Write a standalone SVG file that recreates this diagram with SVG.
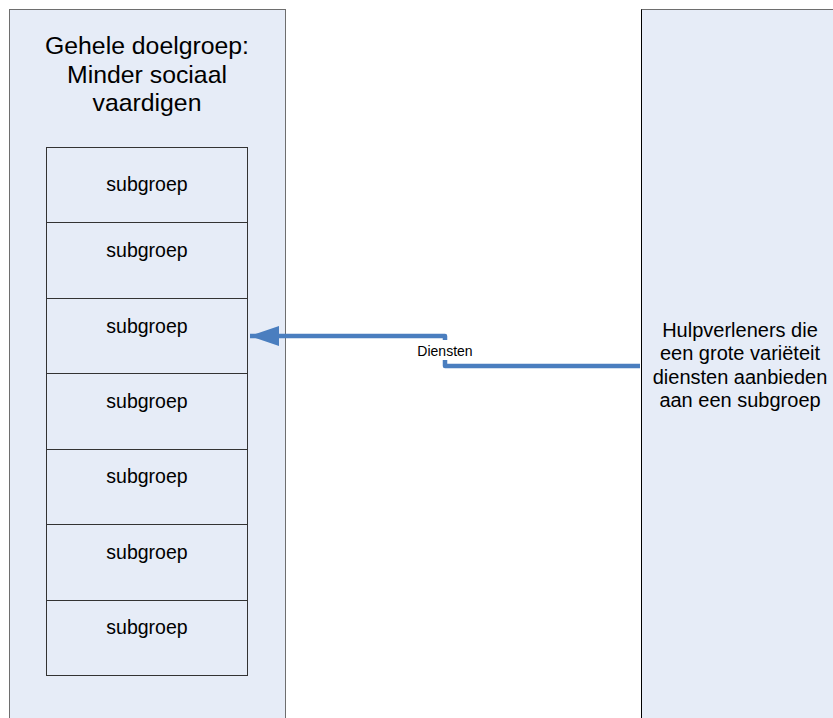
<svg xmlns="http://www.w3.org/2000/svg" width="833" height="718" viewBox="0 0 833 718">
  <style>
    .panel { fill: #E6ECF7; stroke: #6E6E6E; stroke-width: 1; }
    .sub { fill: #E6ECF7; stroke: #333333; stroke-width: 1; }
    text { font-family: "Liberation Sans", Arial, sans-serif; fill: #000; text-anchor: middle; }
    .title { font-size: 24.8px; }
    .side { font-size: 20px; }
    .lbl { font-size: 19.5px; }
    .conn { fill: none; stroke: #4A7EBF; stroke-width: 4.5; stroke-linejoin: round; }
  </style>
  <defs>
    <marker id="arrow" markerUnits="userSpaceOnUse" markerWidth="32" markerHeight="22" refX="29" refY="11" orient="auto">
      <path d="M0,1 L29,11 L0,21 Z" fill="#4A7EBF"/>
    </marker>
  </defs>
  <rect width="833" height="718" fill="#FFFFFF"/>

  <g id="doelgroep">
    <rect class="panel" x="9.5" y="9.5" width="276" height="720"/>
    <text class="title" x="147" y="54">Gehele doelgroep:</text>
    <text class="title" x="147" y="83">Minder sociaal</text>
    <text class="title" x="147" y="111">vaardigen</text>
  </g>

  <g id="subgroep1"><rect class="sub" x="46.5" y="147.5" width="201" height="75"/><text class="lbl" x="147" y="191">subgroep</text></g>
  <g id="subgroep2"><rect class="sub" x="46.5" y="222.5" width="201" height="76"/><text class="lbl" x="147" y="257">subgroep</text></g>
  <g id="subgroep3"><rect class="sub" x="46.5" y="298.5" width="201" height="75"/><text class="lbl" x="147" y="333">subgroep</text></g>
  <g id="subgroep4"><rect class="sub" x="46.5" y="373.5" width="201" height="76"/><text class="lbl" x="147" y="408">subgroep</text></g>
  <g id="subgroep5"><rect class="sub" x="46.5" y="449.5" width="201" height="75"/><text class="lbl" x="147" y="483">subgroep</text></g>
  <g id="subgroep6"><rect class="sub" x="46.5" y="524.5" width="201" height="76"/><text class="lbl" x="147" y="559">subgroep</text></g>
  <g id="subgroep7"><rect class="sub" x="46.5" y="600.5" width="201" height="75"/><text class="lbl" x="147" y="634">subgroep</text></g>

  <g id="hulpverleners">
    <rect class="panel" x="641.5" y="9.5" width="200" height="720"/>
    <line x1="641.5" y1="9.5" x2="641.5" y2="718" stroke="#000" stroke-width="1"/>
    <text class="side" x="740" y="337">Hulpverleners die</text>
    <text class="side" x="740" y="360">een grote variëteit</text>
    <text class="side" x="740" y="384">diensten aanbieden</text>
    <text class="side" x="740" y="407">aan een subgroep</text>
  </g>

  <g id="connectors">
    <path class="conn" d="M640,366 L445,366 L445,360"/>
    <path class="conn" d="M445,340 L445,336 L250,336" marker-end="url(#arrow)"/>
    <text x="445" y="356" style="font-size:14px">Diensten</text>
  </g>
</svg>
